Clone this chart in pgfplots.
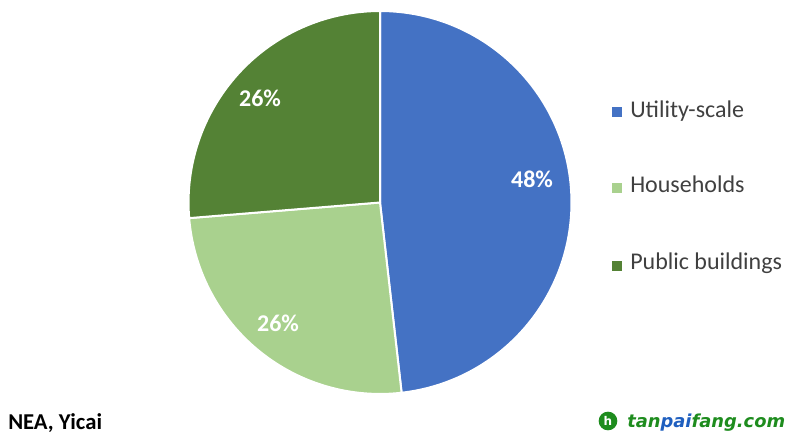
\documentclass[border=0pt]{standalone}
\usepackage{pgfplots}
\pgfplotsset{compat=1.18}
\usepackage{pgfplotstable}
\usepackage{fontspec}
\setmainfont{Carlito}
\newfontfamily\wmfont{DejaVu Sans}
\definecolor{cutil}{HTML}{4472C4}
\definecolor{chouse}{HTML}{A9D18E}
\definecolor{cpublic}{HTML}{548235}
\definecolor{ctext}{HTML}{404040}
\definecolor{wmgreen}{HTML}{1E8C1E}
\definecolor{wmblue}{HTML}{1F5FBF}

% share of installed capacity, % (labels show rounded values)
\pgfplotstableread{
label value
Utility-scale 48.2
Households 25.5
Public-buildings 26.3
}\piedata

\pgfplotstablegetelem{0}{value}\of\piedata \pgfmathsetmacro\va{\pgfplotsretval}
\pgfplotstablegetelem{1}{value}\of\piedata \pgfmathsetmacro\vb{\pgfplotsretval}
\pgfplotstablegetelem{2}{value}\of\piedata \pgfmathsetmacro\vc{\pgfplotsretval}
\pgfmathsetmacro\Azero{90}
\pgfmathsetmacro\Aone{\Azero-3.6*\va}
\pgfmathsetmacro\Atwo{\Aone-3.6*\vb}
\pgfmathsetmacro\Athree{\Atwo-3.6*\vc}

\begin{document}
\begin{tikzpicture}
\begin{axis}[
    x=0.75pt, y=0.75pt,
    xmin=0, xmax=795, ymin=0, ymax=441,
    hide axis, clip=false,
]
% keep the whole canvas in the bounding box
\path (axis cs:0,0) rectangle (axis cs:795,441);

% wedges, clockwise from 12 o'clock
\fill[cutil, draw=white, line width=1.5pt] (axis cs:380,238.5) -- ++(\Azero:143.6pt)
    arc[start angle=\Azero, end angle=\Aone, radius=143.6pt] -- cycle;
\fill[chouse, draw=white, line width=1.5pt] (axis cs:380,238.5) -- ++(\Aone:143.6pt)
    arc[start angle=\Aone, end angle=\Atwo, radius=143.6pt] -- cycle;
\fill[cpublic, draw=white, line width=1.5pt] (axis cs:380,238.5) -- ++(\Atwo:143.6pt)
    arc[start angle=\Atwo, end angle=\Athree, radius=143.6pt] -- cycle;

% data labels
\node[anchor=base, text=white, font=\fontsize{18}{20}\selectfont\bfseries] at (axis cs:532,253) {48\%};
\node[anchor=base, text=white, font=\fontsize{18}{20}\selectfont\bfseries] at (axis cs:278,109) {26\%};
\node[anchor=base, text=white, font=\fontsize{18}{20}\selectfont\bfseries] at (axis cs:260,334) {26\%};

% legend
\fill[cutil] (axis cs:612,324) rectangle (axis cs:622,334);
\fill[chouse] (axis cs:612,247.5) rectangle (axis cs:622,257.5);
\fill[cpublic] (axis cs:612,170) rectangle (axis cs:622,180);
\node[anchor=base west, inner sep=0pt, text=ctext, font=\fontsize{18}{20}\selectfont] at (axis cs:630,323) {Utility-scale};
\node[anchor=base west, inner sep=0pt, text=ctext, font=\fontsize{18}{20}\selectfont] at (axis cs:630,248) {Households};
\node[anchor=base west, inner sep=0pt, text=ctext, font=\fontsize{18}{20}\selectfont] at (axis cs:630,171) {Public buildings};

% source
\node[anchor=base west, inner sep=0pt, font=\fontsize{17}{20}\selectfont\bfseries] at (axis cs:8,11) {NEA, Yicai};

% watermark
\fill[wmgreen] (axis cs:608,20) circle[radius=7pt];
\node[text=white, font=\wmfont\bfseries\fontsize{9}{9}\selectfont] at (axis cs:608,20) {h};
\node[anchor=base west, inner sep=0pt, font=\wmfont\bfseries\itshape\fontsize{13.4}{15}\selectfont] at (axis cs:627,13)
    {\textcolor{wmgreen}{tan}\textcolor{wmblue}{pai}\textcolor{wmgreen}{fang.com}};
\end{axis}
\end{tikzpicture}
\end{document}
